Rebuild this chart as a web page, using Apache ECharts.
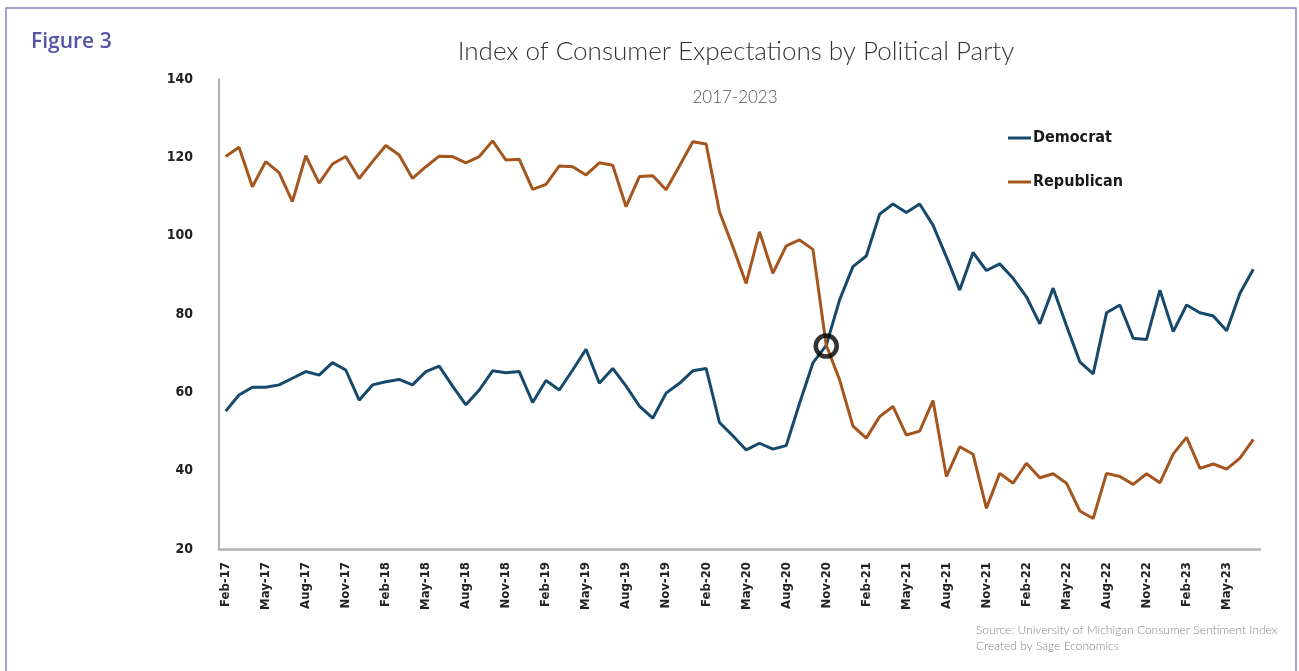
<!DOCTYPE html>
<html>
<head>
<meta charset="utf-8">
<script src="https://cdn.jsdelivr.net/npm/echarts@6/dist/echarts.min.js"></script>
<style>html,body{margin:0;padding:0;background:#fff}#c{width:1299px;height:671px}</style>
</head>
<body>
<div id="c"></div>
<script>
const months = ['Jan','Feb','Mar','Apr','May','Jun','Jul','Aug','Sep','Oct','Nov','Dec'];
const categories = [];
for (let y = 17; y <= 23; y++) {
  for (let m = 0; m < 12; m++) {
    if (y === 17 && m < 1) continue;
    if (y === 23 && m > 6) continue;
    categories.push(months[m] + '-' + y);
  }
}
const democrat = [
  55.2, 59.3, 61.3, 61.3, 61.9, 63.6, 65.3, 64.4, 67.6, 65.7, 58.0, 61.9,
  62.7, 63.3, 61.9, 65.3, 66.7, 61.6, 56.8, 60.6, 65.5, 65.0, 65.3, 57.4,
  63.0, 60.6, 65.7, 71.0, 62.3, 66.1, 61.6, 56.5, 53.4, 59.8, 62.3, 65.5,
  66.1, 52.3, 48.9, 45.3, 47.0, 45.5, 46.4, 57.2, 67.5, 72.0, 83.6, 92.1,
  94.8, 105.5, 108.1, 105.9, 108.1, 102.7, 94.6, 86.1, 95.7, 91.1, 92.8, 89.1,
  84.4, 77.5, 86.6, 77.0, 67.8, 64.7, 80.3, 82.3, 73.8, 73.5, 86.1, 75.5,
  82.3, 80.3, 79.5, 75.7, 85.3, 91.4
];
const republican = [
  120.2, 122.6, 112.5, 118.9, 116.1, 108.7, 120.4, 113.4, 118.3, 120.2, 114.6, 118.9,
  123.0, 120.6, 114.6, 117.6, 120.3, 120.2, 118.6, 120.2, 124.2, 119.3, 119.5, 111.8,
  113.1, 117.8, 117.6, 115.5, 118.6, 118.0, 107.4, 115.1, 115.3, 111.7, 117.8, 124.0,
  123.4, 106.1, 97.2, 87.8, 101.0, 90.4, 97.4, 98.9, 96.5, 72.0, 63.2, 51.4,
  48.3, 53.8, 56.4, 49.1, 50.1, 57.9, 38.5, 46.1, 44.2, 30.4, 39.3, 36.8,
  41.9, 38.2, 39.2, 36.8, 29.7, 27.8, 39.3, 38.5, 36.5, 39.2, 36.9, 44.3,
  48.5, 40.6, 41.7, 40.4, 43.2, 48.0
];
const yTicks = [20, 40, 60, 80, 100, 120, 140];
const highlight = [['Nov-20', 71.8]];

const condensed = "'DejaVu Sans Condensed', 'Liberation Sans Narrow', sans-serif";
const chart = echarts.init(document.getElementById('c'));
chart.setOption({
  animation: false,
  backgroundColor: '#fff',
  grid: { left: 219, right: 39, top: 79, bottom: 122, containLabel: false },
  legend: {
    data: ['Democrat', 'Republican'],
    orient: 'vertical',
    left: 1003, top: 125,
    itemWidth: 23, itemHeight: 3, itemGap: 28,
    icon: 'rect',
    textStyle: { fontFamily: condensed, fontWeight: 'bold', fontSize: 16, color: '#1a1a1a', padding: [0,0,0,-3] }
  },
  xAxis: {
    type: 'category',
    data: categories,
    boundaryGap: true,
    axisLine: { lineStyle: { color: '#b0b0b0', width: 2.5 } },
    axisTick: { show: false },
    axisLabel: {
      interval: 2, rotate: 90, margin: 13,
      fontFamily: condensed, fontWeight: 'bold', fontSize: 13, color: '#222'
    },
    splitLine: { show: false }
  },
  yAxis: {
    type: 'value',
    min: yTicks[0], max: yTicks[yTicks.length - 1], interval: 20,
    axisLine: { show: true, lineStyle: { color: '#999', width: 1.5 } },
    axisTick: { show: false },
    splitLine: { show: false },
    axisLabel: { margin: 26, fontFamily: condensed, fontWeight: 'bold', fontSize: 14, color: '#222' }
  },
  series: [
    { name: 'Democrat', type: 'line', data: democrat, symbol: 'none',
      lineStyle: { color: '#17496b', width: 3 }, itemStyle: { color: '#17496b' } },
    { name: 'Republican', type: 'line', data: republican, symbol: 'none',
      lineStyle: { color: '#a5561f', width: 3 }, itemStyle: { color: '#a5561f' } },
    { name: 'Crossover', type: 'scatter', data: highlight, symbol: 'circle', symbolSize: 21,
      itemStyle: { color: 'rgba(0,0,0,0)', borderColor: '#000', borderWidth: 4.5 }, z: 5 }
  ],
  graphic: [
    { type: 'rect', shape: { x: 6, y: 8, width: 1290, height: 700 },
      style: { fill: 'none', stroke: '#8584c4', lineWidth: 1.5 }, silent: true },
    { type: 'text', left: 31, top: 32,
      style: { text: 'Figure 3', fontFamily: "'Open Sans', sans-serif", fontWeight: 600, fontSize: 21, fill: '#5553a8' } },
    { type: 'text', x: 736, y: 52,
      style: { text: 'Index of Consumer Expectations by Political Party', fontFamily: "Lato, sans-serif", fontWeight: 300,
        fontSize: 26, fill: '#333', align: 'center', verticalAlign: 'middle' } },
    { type: 'text', x: 735, y: 98,
      style: { text: '2017-2023', fontFamily: "Lato, sans-serif", fontWeight: 300, fontSize: 17, fill: '#555', align: 'center', verticalAlign: 'middle' } },
    { type: 'text', x: 976, y: 624,
      style: { text: 'Source: University of Michigan Consumer Sentiment Index', fontFamily: "Lato, sans-serif", fontWeight: 300, fontSize: 12, fill: '#888' } },
    { type: 'text', x: 976, y: 640,
      style: { text: 'Created by Sage Economics', fontFamily: "Lato, sans-serif", fontWeight: 300, fontSize: 12, fill: '#888' } }
  ]
});
</script>
</body>
</html>
